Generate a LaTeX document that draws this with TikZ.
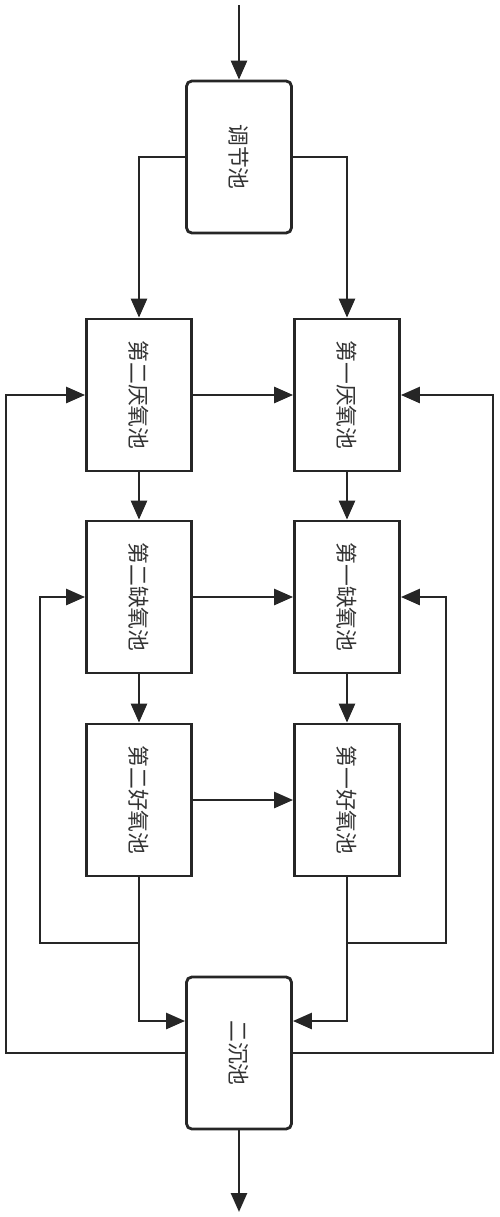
\documentclass[tikz,border=0pt]{standalone}
\usepackage{fontspec}
\setmainfont{Noto Sans CJK SC}
\usepackage{xcolor}
\usepackage{tikz}
\usetikzlibrary{arrows.meta,positioning,calc}

\begin{document}
\begin{tikzpicture}[x=0.02cm, y=-0.02cm,
    pool/.style={rectangle, draw, line width=1.6pt, draw=black!85, minimum width=2.1cm, minimum height=3.04cm,
        inner sep=0pt, font=\fontsize{12.4pt}{13pt}\selectfont, text=black!80},
    tank/.style={pool, rounded corners=3pt},
    trans/.style={-{Triangle[length=0.38cm, width=0.32cm]}, line width=1.5pt, black!85}]
    \useasboundingbox (0,0) rectangle (500,1217);

    % Inlet and outlet tanks
    \node[tank] (TJ) at (239,157) {\rotatebox{-90}{调节池}};
    \node[tank] (EC) at (239,1053) {\rotatebox{-90}{二沉池}};

    % Second line (left)
    \node[pool] (A2) at (139,395) {\rotatebox{-90}{第二厌氧池}};
    \node[pool] (Q2) at (139,597) {\rotatebox{-90}{第二缺氧池}};
    \node[pool] (O2) at (139,800) {\rotatebox{-90}{第二好氧池}};

    % First line (right)
    \node[pool] (A1) at (347,395) {\rotatebox{-90}{第一厌氧池}};
    \node[pool] (Q1) at (347,597) {\rotatebox{-90}{第一缺氧池}};
    \node[pool] (O1) at (347,800) {\rotatebox{-90}{第一好氧池}};

    % Loop corners
    \coordinate (IN) at (239,5);
    \coordinate (OUT) at (239,1212);
    \coordinate (L2) at (40,943);
    \coordinate (R2) at (446,943);
    \coordinate (L1) at (6,1053);
    \coordinate (R1) at (493,1053);

    % Main flow
    \draw[trans] (IN) -- (TJ);
    \draw[trans] (TJ) -| (A2);
    \draw[trans] (TJ) -| (A1);
    \draw[trans] (A2) -- (Q2);
    \draw[trans] (Q2) -- (O2);
    \draw[trans] (A1) -- (Q1);
    \draw[trans] (Q1) -- (O1);
    \draw[trans] (A2) -- (A1);
    \draw[trans] (Q2) -- (Q1);
    \draw[trans] (O2) -- (O1);
    \draw[trans] (O2.south) |- ([yshift=0.64cm]EC.west);
    \draw[trans] (O1.south) |- ([yshift=0.64cm]EC.east);
    \draw[trans] (EC) -- (OUT);

    % Return loops
    \draw[trans] (O2.south) |- (L2) |- (Q2);
    \draw[trans] (O1.south) |- (R2) |- (Q1);
    \draw[trans] (EC.west) -- (L1) |- (A2);
    \draw[trans] (EC.east) -- (R1) |- (A1);

\end{tikzpicture}
\end{document}
